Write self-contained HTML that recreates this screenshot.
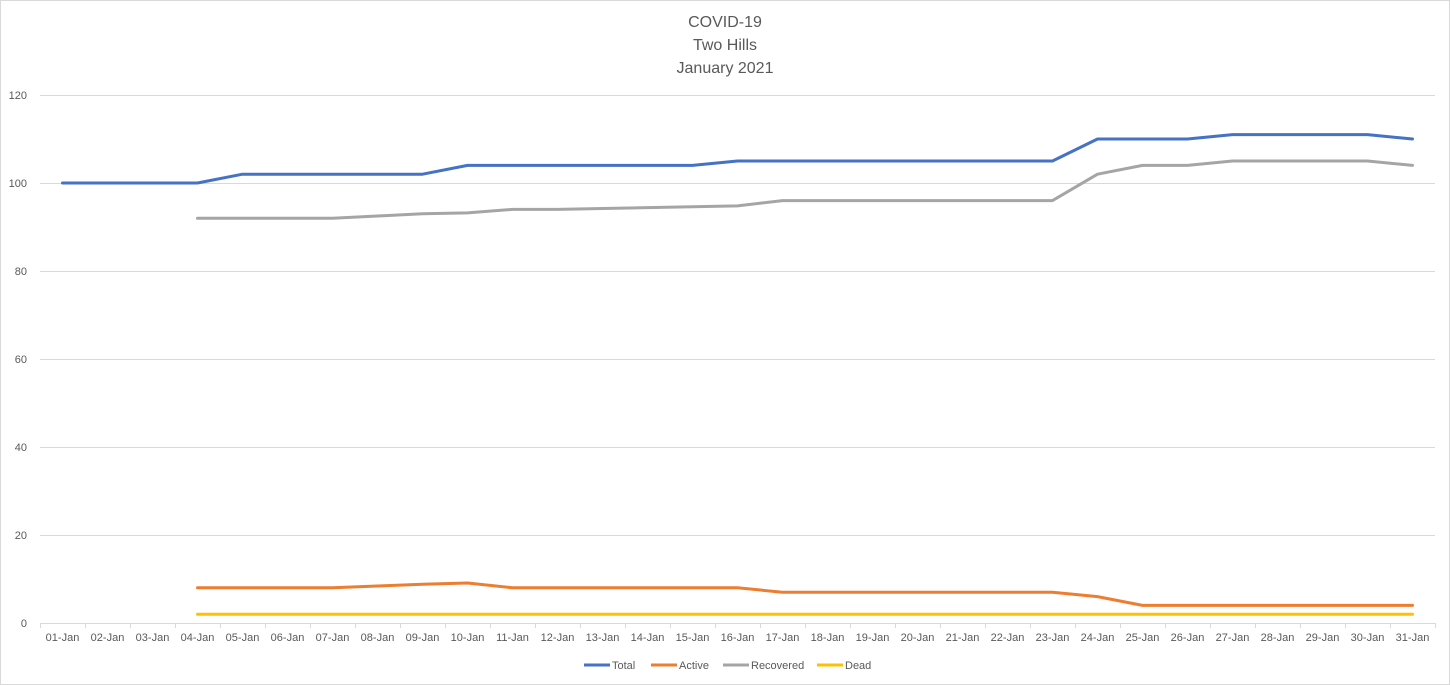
<!DOCTYPE html>
<html><head><meta charset="utf-8"><style>
body{margin:0;background:#fff;}
svg{display:block;font-family:"Liberation Sans",sans-serif;}
</style></head><body>
<svg width="1450" height="685" viewBox="0 0 1450 685" xmlns="http://www.w3.org/2000/svg">
<rect x="0.5" y="0.5" width="1449" height="684" fill="#fff" stroke="#d9d9d9"/>
<text x="725" y="27" text-anchor="middle" font-size="16" fill="#595959">COVID-19</text>
<text x="725" y="50" text-anchor="middle" font-size="16" fill="#595959">Two Hills</text>
<text x="725" y="73" text-anchor="middle" font-size="16" fill="#595959">January 2021</text>
<g id="grid" stroke="#d9d9d9" stroke-width="1"></g>
<g id="ylab" font-size="11" fill="#595959" text-anchor="end"></g>
<g id="xlab" font-size="11" fill="#595959" text-anchor="middle"></g>
<g id="series" fill="none" stroke-width="3" stroke-linejoin="round" stroke-linecap="round"></g>
<g font-size="11" fill="#595959">
<line x1="584" y1="665" x2="610" y2="665" stroke="#4472c4" stroke-width="3"/><text x="612" y="669">Total</text>
<line x1="651" y1="665" x2="677" y2="665" stroke="#ed7d31" stroke-width="3"/><text x="679" y="669">Active</text>
<line x1="723" y1="665" x2="749" y2="665" stroke="#a5a5a5" stroke-width="3"/><text x="751" y="669">Recovered</text>
<line x1="817" y1="665" x2="843" y2="665" stroke="#ffc000" stroke-width="3"/><text x="845" y="669">Dead</text>
</g>
</svg>
<script>
const NS="http://www.w3.org/2000/svg";
function el(p,t,a,txt){const e=document.createElementNS(NS,t);for(const k in a)e.setAttribute(k,a[k]);if(txt!=null)e.textContent=txt;document.getElementById(p).appendChild(e);}
const y0=623,py=4.4,x0=40,dx=45;
for(let v=0;v<=120;v+=20){const y=y0-v*py;el("grid","line",{x1:x0,x2:1435,y1:y+.5,y2:y+.5});el("ylab","text",{x:27,y:y+4},v);}
for(let i=0;i<=31;i++){const x=x0+i*dx+.5;el("grid","line",{x1:x,x2:x,y1:y0,y2:y0+5});}
for(let i=0;i<31;i++){el("xlab","text",{x:x0+dx/2+i*dx,y:641},String(i+1).padStart(2,"0")+"-Jan");}
const T=[100,100,100,100,102,102,102,102,102,104,104,104,104,104,104,105,105,105,105,105,105,105,105,110,110,110,111,111,111,111,110];
const R=[null,null,null,92,92,92,92,92.5,93,93.2,94,94,94.2,94.4,94.6,94.8,96,96,96,96,96,96,96,102,104,104,105,105,105,105,104];
const A=[null,null,null,8,8,8,8,8.4,8.8,9.1,8,8,8,8,8,8,7,7,7,7,7,7,7,6,4,4,4,4,4,4,4];
const D=[null,null,null,2,2,2,2,2,2,2,2,2,2,2,2,2,2,2,2,2,2,2,2,2,2,2,2,2,2,2,2];
function line(d,c){const pts=[];d.forEach((v,i)=>{if(v!=null)pts.push((x0+dx/2+i*dx)+","+(y0-v*py))});el("series","polyline",{points:pts.join(" "),stroke:c});}
line(D,"#ffc000");line(A,"#ed7d31");line(R,"#a5a5a5");line(T,"#4472c4");
</script>
</body></html>
